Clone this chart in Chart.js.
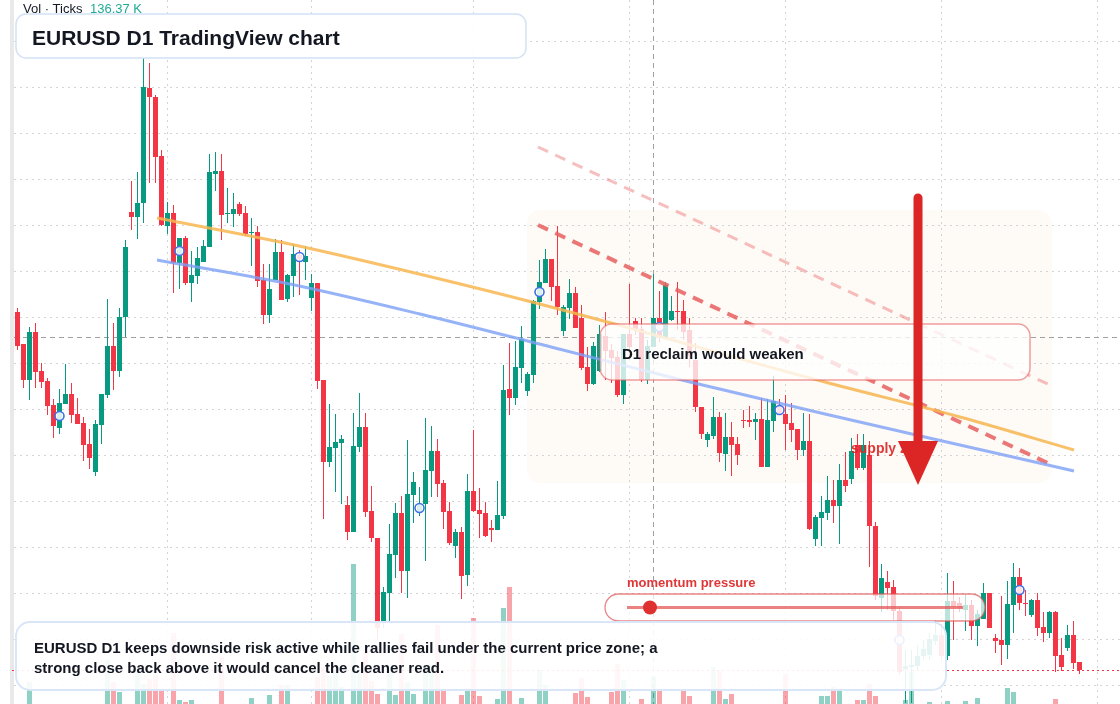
<!DOCTYPE html>
<html>
<head>
<meta charset="utf-8">
<title>EURUSD D1</title>
<script src="https://cdn.jsdelivr.net/npm/chart.js@4.4.1/dist/chart.umd.min.js"></script>
<style>
  html, body { margin: 0; padding: 0; background: #ffffff; }
  canvas { display: block; }
</style>
</head>
<body>
<canvas id="graficoEurusd" width="1120" height="704"></canvas>
<script>
// daily candles
const opens = [1.0988,1.0956,1.0920,1.0968,1.0929,1.0919,1.0895,1.0872,1.0896,1.0906,
  1.0886,1.0877,1.0856,1.0828,1.0875,1.0905,1.0954,1.0929,1.0983,1.1088,
  1.1083,1.1097,1.1212,1.1203,1.1144,1.1074,1.1087,1.1037,1.1062,1.1017,
  1.1024,1.1038,1.1053,1.1126,1.1129,1.1086,1.1086,1.1096,1.1087,1.1067,
  1.1068,1.1020,1.0985,1.1020,1.1048,1.1001,1.1024,1.1045,1.1038,1.1002,
  1.1017,1.0920,1.0838,1.0852,1.0857,1.0795,1.0768,1.0853,1.0873,1.0789,
  1.0762,1.0678,1.0707,1.0745,1.0787,1.0729,1.0805,1.0788,1.0796,1.0829,
  1.0849,1.0817,1.0789,1.0754,1.0768,1.0725,1.0809,1.0790,1.0787,1.0772,
  1.0770,1.0784,1.0911,1.0902,1.0932,1.0909,1.0925,1.0998,1.1017,1.1041,
  1.1014,1.0969,1.0992,1.1007,1.0982,1.0933,1.0916,1.0929,1.0964,1.0950,
  1.0943,1.0905,1.0966,1.0979,1.0971,1.0920,1.0953,1.0982,1.0962,1.0980,
  1.0989,1.0989,1.0970,1.0940,1.0893,1.0860,1.0864,1.0883,1.0846,1.0863,
  1.0856,1.0880,1.0880,1.0878,1.0881,1.0833,1.0879,1.0894,1.0886,1.0877,
  1.0871,1.0850,1.0859,1.0761,1.0782,1.0787,1.0800,1.0794,1.0820,1.0821,
  1.0855,1.0832,1.0845,1.0774,1.0702,1.0718,1.0713,1.0689,1.0631,1.0633,
  1.0634,1.0644,1.0645,1.0659,1.0665,1.0644,1.0699,1.0697,1.0690,1.0695,
  1.0674,1.0681,1.0707,1.0662,1.0660,1.0655,1.0695,1.0723,1.0697,1.0685,
  1.0700,1.0673,1.0667,1.0688,1.0645,1.0652,1.0665,1.0638];
const highs = [1.0992,1.0956,1.0973,1.0977,1.0937,1.0922,1.0901,1.0911,1.0936,1.0917,
  1.0902,1.0883,1.0871,1.0880,1.0906,1.1001,1.0977,1.0992,1.1060,1.1119,
  1.1128,1.1243,1.1237,1.1205,1.1150,1.1098,1.1095,1.1062,1.1064,1.1049,
  1.1053,1.1060,1.1146,1.1148,1.1146,1.1112,1.1107,1.1098,1.1094,1.1082,
  1.1074,1.1036,1.1036,1.1061,1.1060,1.1026,1.1056,1.1050,1.1054,1.1026,
  1.1017,1.0920,1.0896,1.0886,1.0865,1.0804,1.0887,1.0907,1.0887,1.0814,
  1.0762,1.0713,1.0776,1.0797,1.0804,1.0860,1.0828,1.0813,1.0882,1.0874,
  1.0861,1.0820,1.0798,1.0771,1.0773,1.0826,1.0870,1.0812,1.0798,1.0780,
  1.0819,1.0935,1.0957,1.0959,1.0974,1.0928,1.1000,1.1040,1.1051,1.1041,
  1.1074,1.0995,1.1021,1.1013,1.0995,1.0953,1.0958,1.0975,1.0988,1.0956,
  1.0949,1.0966,1.1016,1.0982,1.0982,1.0960,1.1026,1.1009,1.1018,1.1004,
  1.1018,1.1000,1.0982,1.0957,1.0893,1.0868,1.0903,1.0888,1.0887,1.0878,
  1.0863,1.0890,1.0894,1.0887,1.0902,1.0901,1.0924,1.0901,1.0905,1.0897,
  1.0871,1.0887,1.0886,1.0785,1.0804,1.0824,1.0820,1.0836,1.0848,1.0862,
  1.0866,1.0866,1.0859,1.0778,1.0736,1.0729,1.0720,1.0693,1.0650,1.0650,
  1.0655,1.0660,1.0667,1.0680,1.0673,1.0727,1.0719,1.0703,1.0706,1.0700,
  1.0690,1.0717,1.0707,1.0666,1.0704,1.0719,1.0737,1.0732,1.0710,1.0701,
  1.0707,1.0688,1.0689,1.0689,1.0662,1.0675,1.0679,1.0638];
const lows = [1.0950,1.0912,1.0900,1.0912,1.0912,1.0885,1.0862,1.0866,1.0896,1.0877,
  1.0876,1.0839,1.0831,1.0824,1.0856,1.0902,1.0910,1.0923,1.0963,1.1070,
  1.1061,1.1077,1.1117,1.1117,1.1074,1.1066,1.1007,1.1011,1.1015,1.0998,
  1.1016,1.1038,1.1053,1.1109,1.1060,1.1077,1.1073,1.1084,1.1064,1.1034,
  1.1013,1.0976,1.0977,1.1020,1.1000,1.0998,1.1003,1.1005,1.1020,1.0989,
  1.0911,1.0781,1.0833,1.0808,1.0796,1.0760,1.0768,1.0848,1.0783,1.0758,
  1.0660,1.0672,1.0678,1.0722,1.0707,1.0702,1.0777,1.0784,1.0739,1.0803,
  1.0803,1.0771,1.0755,1.0742,1.0701,1.0714,1.0788,1.0762,1.0763,1.0758,
  1.0770,1.0781,1.0885,1.0895,1.0917,1.0904,1.0917,1.0991,1.1017,1.0999,
  1.0985,1.0964,1.0981,1.0972,1.0930,1.0909,1.0915,1.0928,1.0920,1.0917,
  1.0903,1.0896,1.0940,1.0965,1.0918,1.0916,1.0953,1.0958,1.0962,1.0979,
  1.0970,1.0960,1.0933,1.0888,1.0861,1.0853,1.0861,1.0838,1.0829,1.0824,
  1.0835,1.0872,1.0873,1.0860,1.0833,1.0833,1.0868,1.0885,1.0850,1.0858,
  1.0840,1.0844,1.0770,1.0754,1.0754,1.0780,1.0777,1.0756,1.0808,1.0816,
  1.0830,1.0830,1.0733,1.0700,1.0688,1.0690,1.0680,1.0625,1.0597,1.0597,
  1.0630,1.0640,1.0640,1.0655,1.0640,1.0640,1.0660,1.0688,1.0669,1.0660,
  1.0654,1.0681,1.0672,1.0647,1.0635,1.0641,1.0667,1.0690,1.0684,1.0683,
  1.0664,1.0658,1.0662,1.0628,1.0629,1.0649,1.0631,1.0626];
const closes = [1.0954,1.0920,1.0968,1.0928,1.0918,1.0894,1.0874,1.0897,1.0906,1.0885,
  1.0876,1.0855,1.0842,1.0876,1.0906,1.0954,1.0929,1.0983,1.1053,1.1083,
  1.1097,1.1213,1.1203,1.1143,1.1075,1.1087,1.1037,1.1062,1.1017,1.1025,
  1.1042,1.1054,1.1128,1.1129,1.1085,1.1087,1.1091,1.1086,1.1066,1.1068,
  1.1019,1.0985,1.1011,1.1048,1.1000,1.1025,1.1046,1.1041,1.1044,1.1017,
  1.0919,1.0838,1.0853,1.0858,1.0861,1.0768,1.0854,1.0873,1.0788,1.0762,
  1.0672,1.0708,1.0746,1.0787,1.0729,1.0806,1.0818,1.0796,1.0830,1.0849,
  1.0816,1.0788,1.0757,1.0768,1.0724,1.0809,1.0789,1.0786,1.0764,1.0770,
  1.0785,1.0910,1.0902,1.0933,1.0961,1.0926,1.0999,1.1018,1.1041,1.1013,
  1.0993,1.0993,1.1007,1.0972,1.0932,1.0916,1.0954,1.0966,1.0949,1.0942,
  1.0905,1.0966,1.0953,1.0971,1.0920,1.0954,1.0982,1.0963,1.1015,1.0989,
  1.0988,1.0968,1.0944,1.0893,1.0866,1.0866,1.0883,1.0847,1.0863,1.0855,
  1.0845,1.0879,1.0878,1.0881,1.0833,1.0880,1.0899,1.0887,1.0876,1.0870,
  1.0850,1.0859,1.0771,1.0783,1.0788,1.0800,1.0794,1.0820,1.0814,1.0849,
  1.0832,1.0855,1.0774,1.0704,1.0722,1.0712,1.0689,1.0628,1.0634,1.0635,
  1.0644,1.0651,1.0661,1.0665,1.0644,1.0699,1.0693,1.0692,1.0695,1.0674,
  1.0686,1.0707,1.0672,1.0659,1.0655,1.0696,1.0723,1.0697,1.0696,1.0700,
  1.0672,1.0667,1.0688,1.0644,1.0633,1.0665,1.0637,1.0630];
// tick volume, thousands
const volumes = [0,0,22,0,0,0,0,0,0,0,
  0,0,0,0,0,44,22,12,0,0,
  34,20,25,29,13,0,71,4,2,4,
  0,0,0,0,47,0,0,0,0,6,
  0,0,9,0,19,19,0,0,0,0,
  27,37,28,34,17,0,140,36,54,23,
  10,0,34,9,70,22,10,0,39,39,
  79,15,0,0,9,14,86,8,0,0,
  5,96,117,0,6,0,0,34,19,0,
  0,0,0,11,26,7,0,0,0,12,
  40,24,0,0,5,0,27,13,0,0,
  0,13,8,0,0,0,37,33,5,10,
  0,0,0,0,0,0,0,0,30,0,
  0,0,0,0,8,8,17,13,0,0,
  4,4,20,8,0,0,0,0,4,32,
  0,0,2,0,0,3,0,0,3,0,
  6,0,0,0,0,16,12,0,0,0,
  0,0,0,5,0,0,0,0];

const monthStarts = [25, 49, 76, 102, 128, 154, 180]; // vertical grid, by bar index
const gridPrices = [1.12587, 1.12127, 1.11667, 1.11207, 1.10747, 1.10287, 1.09827, 1.09367,
  1.08907, 1.08447, 1.07987, 1.07527, 1.07067, 1.06607, 1.06147];

const markerIdx = [7, 27, 47, 67, 87, 107, 127, 147, 167];
const markerPrice = [1.0884, 1.1049, 1.1043, 1.0792, 1.1008, 1.0973, 1.0890, 1.0660, 1.0710];

const resistIdx = [23.25, 44.58, 66.25, 89.58, 134.58, 157.08, 176.08];
const resistPrice = [1.1082, 1.1057, 1.1027, 1.0992, 1.0918, 1.0883, 1.0850];
const supportIdx = [23.25, 44.58, 67.08, 89.58, 112.08, 134.58, 157.08, 176.08];
const supportPrice = [1.1040, 1.1017, 1.0986, 1.0952, 1.0918, 1.0886, 1.0855, 1.0829];
const channelIdx = [86.75, 172.75];
const channelPrice = [1.1075, 1.0834];
const channelTopIdx = [86.75, 172.42];
const channelTopPrice = [1.1153, 1.0914];

const crossIdx = 106;
const crossPrice = 1.0962;

const UP = '#089981';
const DOWN = '#f23645';
const FONT = '"Liberation Sans", Arial, sans-serif';

const isUp = opens.map((o, i) => closes[i] >= o);
const candleColors = isUp.map(u => u ? UP : DOWN);
const volColors = isUp.map(u => u ? 'rgba(8,153,129,0.45)' : 'rgba(242,54,69,0.45)');

function roundedBox(ctx, x, y, w, h, r) {
  ctx.beginPath();
  ctx.moveTo(x + r, y);
  ctx.arcTo(x + w, y, x + w, y + h, r);
  ctx.arcTo(x + w, y + h, x, y + h, r);
  ctx.arcTo(x, y + h, x, y, r);
  ctx.arcTo(x, y, x + w, y, r);
  ctx.closePath();
}

function line(ctx, x1, y1, x2, y2) {
  ctx.beginPath();
  ctx.moveTo(x1, y1);
  ctx.lineTo(x2, y2);
  ctx.stroke();
}

// grid, zone and crosshair under the candles
const fundoPlugin = {
  id: 'fundo',
  beforeDatasetsDraw(chart) {
    const { ctx, scales: { x, y } } = chart;
    ctx.save();
    ctx.fillStyle = '#e9e9e9';
    ctx.fillRect(10, 0, 4, 704);

    roundedBox(ctx, 527, 210, 525, 273, 14);
    ctx.fillStyle = 'rgba(240,165,95,0.055)';
    ctx.fill();

    ctx.strokeStyle = '#d2d4d8';
    ctx.lineWidth = 1;
    ctx.setLineDash([2, 4]);
    gridPrices.forEach(p => {
      const py = Math.floor(y.getPixelForValue(p)) + 0.5;
      line(ctx, 14, py, 1120, py);
    });
    monthStarts.forEach(i => {
      const px = Math.floor(x.getPixelForValue(i)) + 0.5;
      line(ctx, px, 0, px, 704);
    });

    ctx.strokeStyle = '#a0a0a0';
    ctx.setLineDash([5, 4]);
    const cx = Math.floor(x.getPixelForValue(crossIdx)) + 0.5;
    const cy = Math.floor(y.getPixelForValue(crossPrice)) + 0.5;
    line(ctx, cx, 0, cx, 704);
    line(ctx, 14, cy, 1120, cy);
    ctx.restore();
  }
};

// annotations over the candles
const notasPlugin = {
  id: 'notas',
  afterDatasetsDraw(chart) {
    const { ctx, scales: { y } } = chart;
    ctx.save();

    // last price line
    const lastY = Math.floor(y.getPixelForValue(closes[closes.length - 1])) + 0.5;
    ctx.strokeStyle = DOWN;
    ctx.lineWidth = 1;
    ctx.setLineDash([2, 3]);
    line(ctx, 12, lastY, 1120, lastY);
    ctx.setLineDash([]);

    // D1 reclaim box
    roundedBox(ctx, 600, 324, 430, 56, 12);
    ctx.fillStyle = 'rgba(255,255,255,0.78)';
    ctx.fill();
    ctx.strokeStyle = 'rgba(230,95,95,0.6)';
    ctx.lineWidth = 1.5;
    ctx.stroke();
    ctx.fillStyle = '#131722';
    ctx.font = 'bold 15px ' + FONT;
    ctx.fillText('D1 reclaim would weaken', 622, 359);

    // momentum pill
    roundedBox(ctx, 605, 594, 380, 27, 13.5);
    ctx.fillStyle = 'rgba(255,255,255,0.72)';
    ctx.fill();
    ctx.strokeStyle = 'rgba(225,80,80,0.7)';
    ctx.lineWidth = 1.3;
    ctx.stroke();
    ctx.strokeStyle = 'rgba(228,80,80,0.72)';
    ctx.lineWidth = 3;
    line(ctx, 627, 607.5, 963, 607.5);
    ctx.beginPath();
    ctx.arc(650, 607.5, 7, 0, Math.PI * 2);
    ctx.fillStyle = '#e03131';
    ctx.fill();
    ctx.fillStyle = 'rgba(220,38,38,0.92)';
    ctx.font = 'bold 13px ' + FONT;
    ctx.fillText('momentum pressure', 627, 587);

    // bottom note
    roundedBox(ctx, 16, 622, 930, 68, 14);
    ctx.fillStyle = 'rgba(255,255,255,0.9)';
    ctx.fill();
    ctx.strokeStyle = '#d9e6f8';
    ctx.lineWidth = 2;
    ctx.stroke();
    ctx.fillStyle = '#131722';
    ctx.font = 'bold 15px ' + FONT;
    ctx.fillText('EURUSD D1 keeps downside risk active while rallies fail under the current price zone; a', 34, 653);
    ctx.fillText('strong close back above it would cancel the cleaner read.', 34, 673);

    // title
    roundedBox(ctx, 16, 14, 510, 44, 10);
    ctx.fillStyle = 'rgba(255,255,255,0.92)';
    ctx.fill();
    ctx.strokeStyle = '#d4e2f6';
    ctx.lineWidth = 1.5;
    ctx.stroke();
    ctx.fillStyle = '#131722';
    ctx.font = 'bold 21px ' + FONT;
    ctx.fillText('EURUSD D1 TradingView chart', 32, 45);

    ctx.font = '13px ' + FONT;
    ctx.fillText('Vol \u00b7 Ticks', 23, 13);
    ctx.fillStyle = '#22ab94';
    ctx.fillText('136.37 K', 90, 13);

    // supply zone label and arrow
    ctx.fillStyle = 'rgba(220,38,38,0.9)';
    ctx.font = 'bold 14px ' + FONT;
    ctx.fillText('supply zone', 851, 453);

    ctx.strokeStyle = '#dc2626';
    ctx.lineWidth = 9;
    ctx.lineCap = 'round';
    line(ctx, 918, 198, 918, 445);
    ctx.beginPath();
    ctx.moveTo(898, 441);
    ctx.lineTo(938, 441);
    ctx.lineTo(918, 485);
    ctx.closePath();
    ctx.fillStyle = '#dc2626';
    ctx.fill();
    ctx.restore();
  }
};

const ctx = document.getElementById('graficoEurusd').getContext('2d');

new Chart(ctx, {
  data: {
    datasets: [
      {
        type: 'scatter',
        data: markerIdx.map((i, k) => ({ x: i, y: markerPrice[k] })),
        pointRadius: 4.5,
        pointBorderWidth: 1.6,
        pointBorderColor: '#3f6fe4',
        pointBackgroundColor: 'rgba(255,255,255,0.85)',
        order: 0
      },
      {
        type: 'line',
        data: resistIdx.map((i, k) => ({ x: i, y: resistPrice[k] })),
        borderColor: 'rgba(247,182,80,0.85)',
        borderWidth: 3,
        pointRadius: 0,
        cubicInterpolationMode: 'monotone',
        order: 1
      },
      {
        type: 'line',
        data: supportIdx.map((i, k) => ({ x: i, y: supportPrice[k] })),
        borderColor: 'rgba(125,160,245,0.8)',
        borderWidth: 3,
        pointRadius: 0,
        cubicInterpolationMode: 'monotone',
        order: 1
      },
      {
        type: 'line',
        data: channelIdx.map((i, k) => ({ x: i, y: channelPrice[k] })),
        borderColor: 'rgba(232,95,95,0.85)',
        borderWidth: 4,
        borderDash: [11, 8],
        pointRadius: 0,
        order: 1
      },
      {
        type: 'line',
        data: channelTopIdx.map((i, k) => ({ x: i, y: channelTopPrice[k] })),
        borderColor: 'rgba(232,95,95,0.4)',
        borderWidth: 3,
        borderDash: [11, 8],
        pointRadius: 0,
        order: 1
      },
      {
        type: 'bar',
        data: opens.map((o, i) => ({ x: i, y: [o, closes[i]] })),
        backgroundColor: candleColors,
        barThickness: 5,
        minBarLength: 1,
        inflateAmount: 0,
        grouped: false,
        order: 2
      },
      {
        type: 'bar',
        data: lows.map((l, i) => ({ x: i, y: [l, highs[i]] })),
        backgroundColor: candleColors,
        barThickness: 1,
        inflateAmount: 0,
        grouped: false,
        order: 3
      },
      {
        type: 'bar',
        data: volumes.map((v, i) => ({ x: i, y: v })),
        backgroundColor: volColors,
        barThickness: 5,
        inflateAmount: 0,
        grouped: false,
        yAxisID: 'vol',
        order: 4
      }
    ]
  },
  options: {
    responsive: false,
    animation: false,
    events: [],
    layout: { padding: 0, autoPadding: false },
    plugins: {
      legend: { display: false },
      tooltip: { enabled: false }
    },
    scales: {
      x: { type: 'linear', min: -2.9167, max: 183.75, offset: false, display: false },
      y: { type: 'linear', min: 1.0596, max: 1.1300, display: false },
      vol: { type: 'linear', min: 0, max: 704, display: false }
    }
  },
  plugins: [fundoPlugin, notasPlugin]
});
</script>
</body>
</html>
